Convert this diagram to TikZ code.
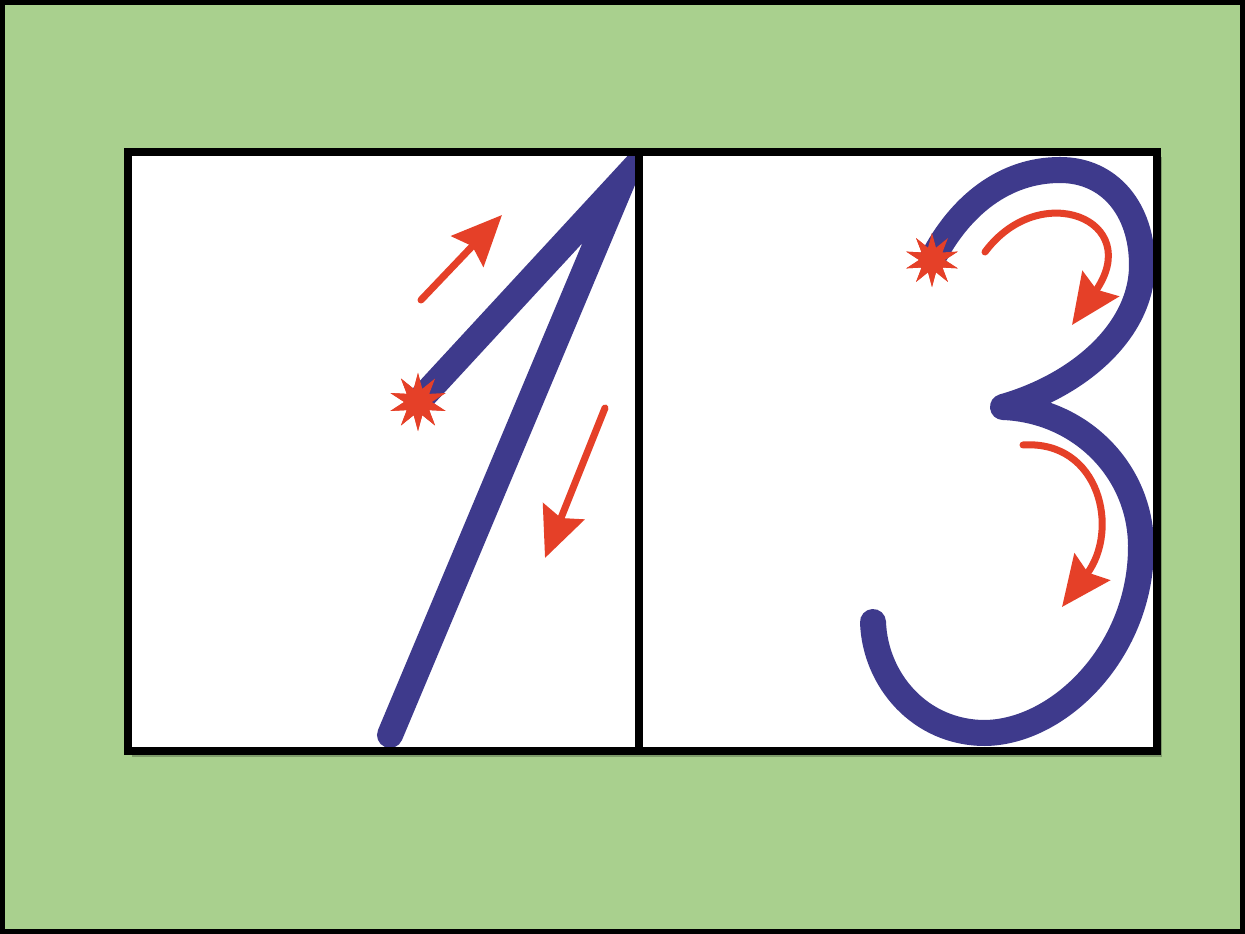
\documentclass[tikz,border=0pt]{standalone}
\usetikzlibrary{arrows.meta,bending,shapes.geometric}
\definecolor{boardgreen}{RGB}{169,208,142}
\definecolor{inkblue}{RGB}{62,58,140}
\definecolor{inkred}{RGB}{229,64,40}

\begin{document}
\begin{tikzpicture}[x=0.01cm, y=-0.01cm,
  panel/.style={draw=black, line width=0.08cm},
  digit/.style={draw=inkblue, line width=0.26cm, line cap=round, line join=round},
  spark/.style={star, star points=10, star point ratio=2.1, fill=inkred, draw=none, inner sep=0pt},
  arr/.style={draw=inkred, line width=0.07cm, line cap=round,
              -{Stealth[length=0.5cm, width=0.44cm, inset=0.07cm, quick]}}]
\useasboundingbox (0,0) rectangle (1245,934);
% board
\fill[boardgreen] (0,0) rectangle (1245,934);
\draw[line width=0.045cm] (2.5,2.5) rectangle (1242.5,931.5);
\fill[black, opacity=0.25] (132,157) rectangle (1162,757);
\fill[white] (128,152) rectangle (1157,751);

% digit one
\node[spark, minimum size=0.58cm] (one) at (418,402) {};
\begin{scope}
  \clip (128,152) rectangle (639,751);
  \draw[digit, line join=miter] (one.center) -- (623,180) -- (390,735);
\end{scope}
\node[spark, minimum size=0.58cm] at (one.center) {};
\draw[arr] (421,300) -- (502,215);
\draw[arr] (605,408) -- (545,558);

% digit three
\node[spark, minimum size=0.54cm] (three) at (932,260) {};
\begin{scope}
  \clip (639,152) rectangle (1157,751);
  \draw[digit] (three.center) .. controls (960,205) and (1005,170) .. (1060,170)
    .. controls (1110,170) and (1142,210) .. (1142,265)
    .. controls (1142,330) and (1080,385) .. (1003,407)
    .. controls (1080,410) and (1140,470) .. (1141,545)
    .. controls (1142,650) and (1060,732) .. (985,733)
    .. controls (920,733) and (875,680) .. (873,622);
\end{scope}
\node[spark, minimum size=0.54cm] at (three.center) {};
\draw[arr] (985,252) .. controls (1040,178) and (1145,220) .. (1072,325);
\draw[arr] (1023,445) .. controls (1100,440) and (1120,530) .. (1062,607);

% frames
\draw[panel] (128,152) rectangle (639,751);
\draw[panel] (639,152) rectangle (1157,751);
\end{tikzpicture}
\end{document}
